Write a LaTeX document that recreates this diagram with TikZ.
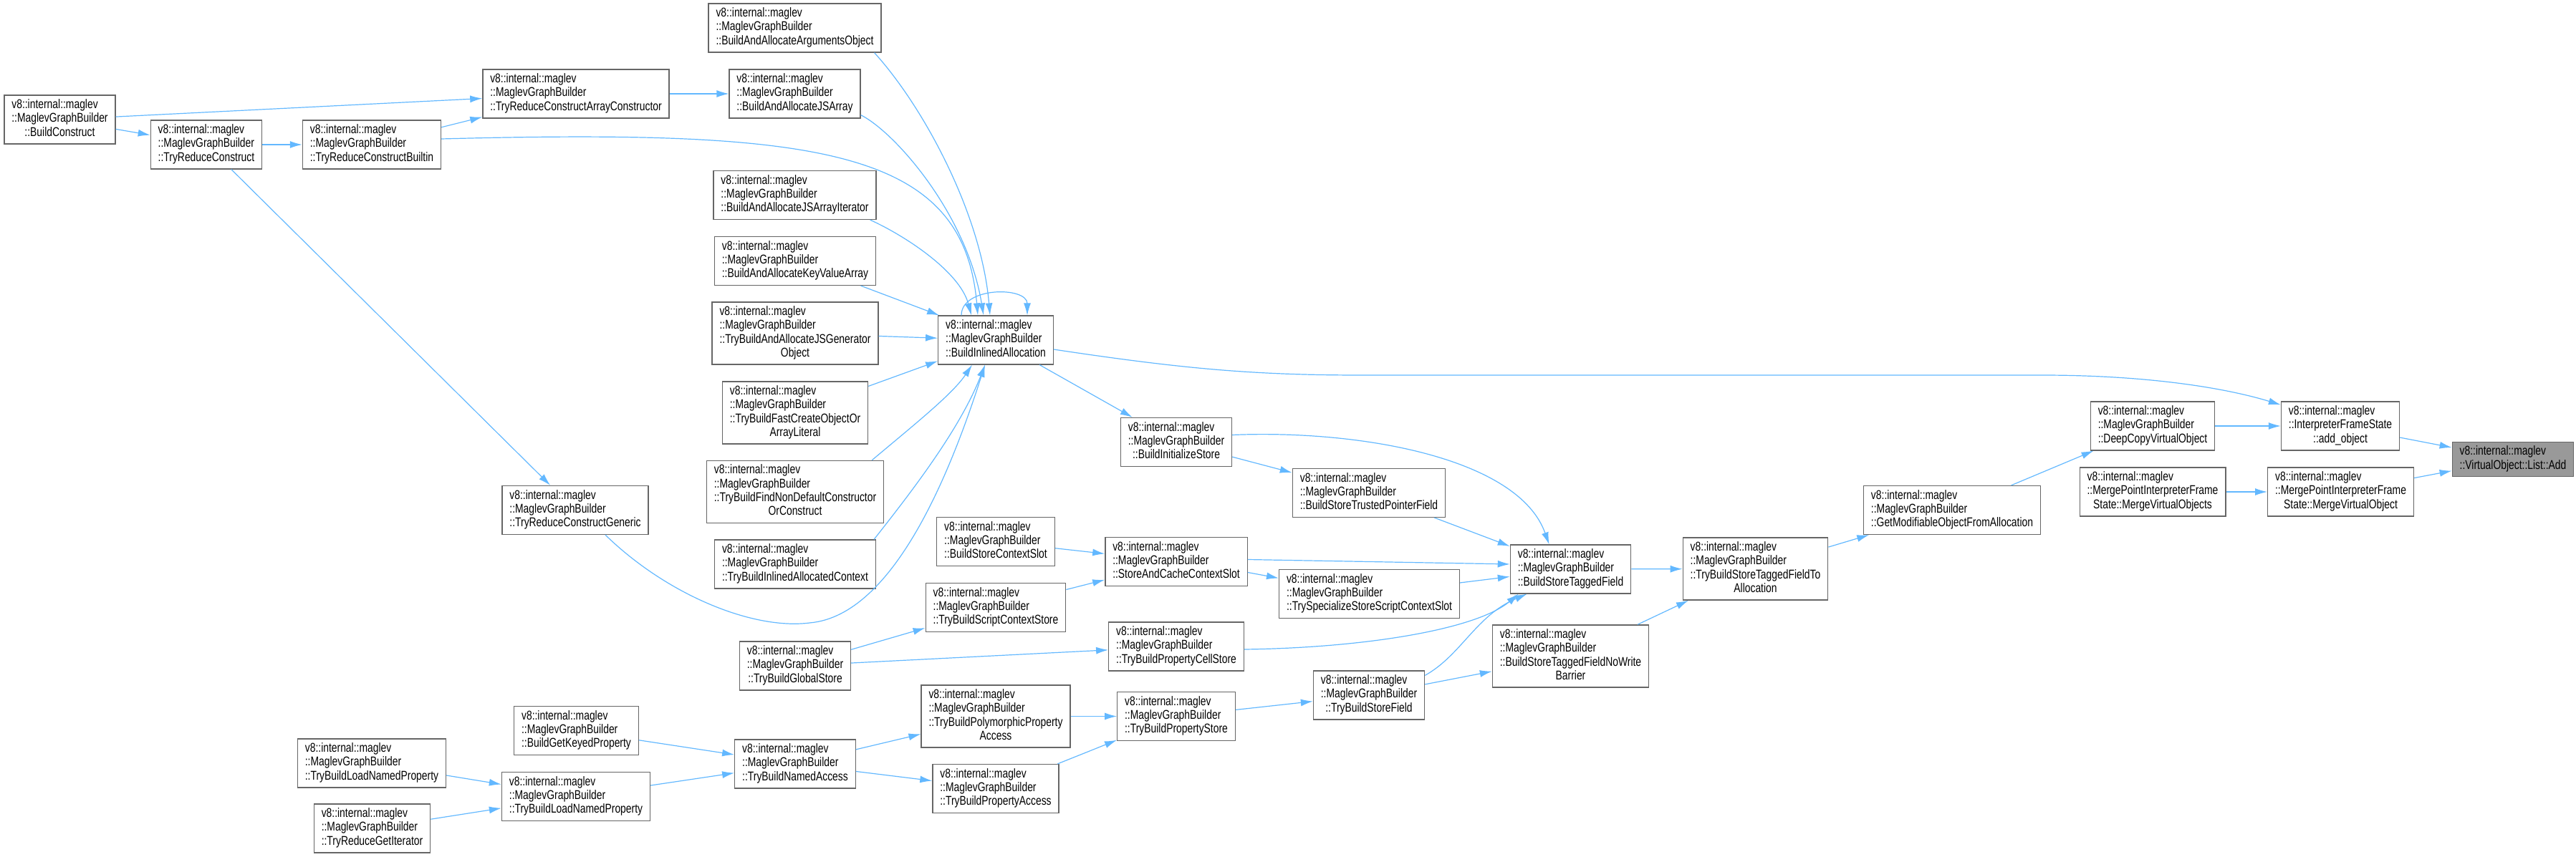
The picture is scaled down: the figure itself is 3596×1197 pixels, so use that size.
\documentclass[tikz,border=0pt]{standalone}
\usepackage{fontspec}
\usepackage{tikz}
\usetikzlibrary{arrows.meta,calc}
\newfontfamily\graphfont{Liberation Sans}[FakeStretch=0.78]
\definecolor{edgeblue}{RGB}{99,184,255}
\definecolor{boxgray}{RGB}{102,102,102}
\definecolor{addgray}{RGB}{153,153,153}
\newcommand{\fnlab}[2]{\begin{tabular}{@{}l@{}}#1\\\multicolumn{1}{@{}c@{}}{#2}\end{tabular}}
\newcommand{\mgb}[1]{\fnlab{v8::internal::maglev\\::MaglevGraphBuilder}{#1}}
\newcommand{\mgbb}[2]{\fnlab{v8::internal::maglev\\::MaglevGraphBuilder\\#1}{#2}}

\begin{document}
\begin{tikzpicture}[x=0.5pt,y=-0.5pt,
  fn/.style={draw=boxgray,line width=0.65pt,fill=white,inner xsep=5.2pt,inner ysep=2.5pt,
    font=\graphfont\fontsize{8.9pt}{9.65pt}\selectfont},
  arr/.style={-{Latex[length=8.5pt,width=5pt]},draw=edgeblue,line width=0.6pt}
]
\useasboundingbox (0,0) rectangle (3596,1197);

% callers, left to right
\node[fn] (bc) at (83.5,167) {\mgb{::BuildConstruct}};
\node[fn] (trc) at (288,202) {\mgb{::TryReduceConstruct}};
\node[fn] (trcb) at (519,202) {\mgb{::TryReduceConstructBuiltin}};
\node[fn] (trcac) at (804,131) {\mgb{::TryReduceConstructArrayConstructor}};
\node[fn] (trcg) at (803,712.5) {\mgb{::TryReduceConstructGeneric}};
\node[fn] (bgkp) at (804.5,1020.5) {\mgb{::BuildGetKeyedProperty}};
\node[fn] (tblnp1) at (519,1066) {\mgb{::TryBuildLoadNamedProperty}};
\node[fn] (trgi) at (519.5,1157) {\mgb{::TryReduceGetIterator}};
\node[fn] (tblnp2) at (804,1112.5) {\mgb{::TryBuildLoadNamedProperty}};

\node[fn] (baao) at (1109.5,39) {\mgb{::BuildAndAllocateArgumentsObject}};
\node[fn] (baaj) at (1109.5,131) {\mgb{::BuildAndAllocateJSArray}};
\node[fn] (baaji) at (1109.5,272.5) {\mgb{::BuildAndAllocateJSArrayIterator}};
\node[fn] (baakv) at (1110,364.5) {\mgb{::BuildAndAllocateKeyValueArray}};
\node[fn] (tbajg) at (1110,465.5) {\mgbb{::TryBuildAndAllocateJSGenerator}{Object}};
\node[fn] (tbfc) at (1110,576.5) {\mgbb{::TryBuildFastCreateObjectOr}{ArrayLiteral}};
\node[fn] (tbfnd) at (1110,687) {\mgbb{::TryBuildFindNonDefaultConstructor}{OrConstruct}};
\node[fn] (tbiac) at (1110,788) {\mgb{::TryBuildInlinedAllocatedContext}};
\node[fn] (tbgs) at (1110,930) {\mgb{::TryBuildGlobalStore}};
\node[fn] (tbna) at (1110,1067) {\mgb{::TryBuildNamedAccess}};

\node[fn] (bia) at (1390,475) {\mgb{::BuildInlinedAllocation}};
\node[fn] (bscs) at (1390,756.5) {\mgb{::BuildStoreContextSlot}};
\node[fn] (tbscs) at (1390,848.5) {\mgb{::TryBuildScriptContextStore}};
\node[fn] (tbppa) at (1390,1000.5) {\mgbb{::TryBuildPolymorphicProperty}{Access}};
\node[fn] (tbpa) at (1390,1101.5) {\mgb{::TryBuildPropertyAccess}};

\node[fn] (bis) at (1642,617.5) {\mgb{::BuildInitializeStore}};
\node[fn] (sacs) at (1642,784.5) {\mgb{::StoreAndCacheContextSlot}};
\node[fn] (tbpcs) at (1642,903) {\mgb{::TryBuildPropertyCellStore}};
\node[fn] (tbps) at (1642,1000.5) {\mgb{::TryBuildPropertyStore}};

\node[fn] (bstpf) at (1911,688.5) {\mgb{::BuildStoreTrustedPointerField}};
\node[fn] (tssc) at (1911.5,829.5) {\mgb{::TrySpecializeStoreScriptContextSlot}};
\node[fn] (tbsf) at (1911,971) {\mgb{::TryBuildStoreField}};

\node[fn] (bstf) at (2192.5,795) {\mgb{::BuildStoreTaggedField}};
\node[fn] (bstfnwb) at (2192.5,916.5) {\mgbb{::BuildStoreTaggedFieldNoWrite}{Barrier}};
\node[fn] (tbstfa) at (2450.5,794.5) {\mgbb{::TryBuildStoreTaggedFieldTo}{Allocation}};
\node[fn] (gmofa) at (2725,712.5) {\mgb{::GetModifiableObjectFromAllocation}};

\node[fn] (dcvo) at (3005,595) {\mgb{::DeepCopyVirtualObject}};
\node[fn] (mvos) at (3005,687) {\fnlab{v8::internal::maglev\\::MergePointInterpreterFrame}{State::MergeVirtualObjects}};
\node[fn] (ifs) at (3267,595) {\fnlab{v8::internal::maglev\\::InterpreterFrameState}{::add\_object}};
\node[fn] (mvo) at (3267.5,687) {\fnlab{v8::internal::maglev\\::MergePointInterpreterFrame}{State::MergeVirtualObject}};
\node[fn,fill=addgray] (add) at (3508,641.5) {\fnlab{v8::internal::maglev}{::VirtualObject::List::Add}};

% calls
\draw[arr] (bc) -- (trc);
\draw[arr] (bc) -- (trcac);
\draw[arr] (trc) -- (trcb);
\draw[arr] (trcb) -- (trcac);
\draw[arr] (trc) -- (trcg);
\draw[arr] (trcac) -- (baaj);
\draw[arr] ($(trcb.east)+(0,-8)$) .. controls (1150,180) and (1345,210) .. ($(bia.north)+(-25,0)$);
\draw[arr] ($(baao.south east)+(-10,0)$) .. controls (1290,150) and (1370,300) .. ($(bia.north)+(-8,0)$);
\draw[arr] ($(baaj.south east)+(0,-5)$) .. controls (1250,185) and (1350,300) .. ($(bia.north)+(-17,0)$);
\draw[arr] ($(baaji.south east)+(-9,0)$) .. controls (1265,330) and (1340,380) .. ($(bia.north)+(-34,0)$);
\draw[arr] (baakv) -- ($(bia.north west)+(2,0)$);
\draw[arr] ($(bia.north)+(-48,0)$) .. controls (1342,400) and (1434,400) .. ($(bia.north)+(44,0)$);
\draw[arr] (tbajg) -- (bia);
\draw[arr] (tbfc) -- (bia);
\draw[arr] ($(tbfnd.north east)+(-17,0)$) .. controls (1280,590) and (1330,550) .. ($(bia.south)+(-33,0)$);
\draw[arr] ($(tbiac.north east)+(-3,0)$) .. controls (1270,690) and (1340,600) .. ($(bia.south)+(-15,0)$);
\coordinate (genbend) at (1130,870);
\draw[arr] ($(trcg.south)+(42,0)$) .. controls (930,830) and (1050,880) .. (genbend)
  .. controls (1250,860) and (1330,650) .. ($(bia.south)+(-15,0)$);
\draw[arr] (bia) -- (bis);
\draw[arr] ($(bia.east)+(0,13)$) .. controls (1650,515) and (1750,524) .. (1900,524) -- (2850,524)
  .. controls (2990,524) and (3100,540) .. ($(ifs.north west)+(0,5)$);
\draw[arr] (bis) -- (bstpf);
\draw[arr] ($(bis.east)+(0,-10)$) .. controls (1900,600) and (2120,640) .. ($(bstf.north)+(-30,0)$);
\draw[arr] (bstpf) -- (bstf);
\draw[arr] ($(sacs.east)+(0,-3)$) -- ($(bstf.west)+(0,-7)$);
\draw[arr] (bscs) -- (sacs);
\draw[arr] ($(sacs.east)+(0,15)$) -- ($(tssc.west)+(0,-22)$);
\draw[arr] (tssc) -- (bstf);
\draw[arr] (tbscs) -- (sacs);
\draw[arr] (tbgs) -- (tbscs);
\draw[arr] (tbgs) -- (tbpcs);
\draw[arr] ($(tbpcs.east)+(0,4)$) .. controls (1900,905) and (2060,880) .. ($(bstf.south west)+(12,0)$);
\draw[arr] ($(tbsf.north east)+(0,7)$) .. controls (2040,915) and (2060,860) .. ($(bstf.south west)+(24,0)$);
\draw[arr] (tbsf) -- (bstfnwb);
\draw[arr] (tbps) -- (tbsf);
\draw[arr] (tbppa) -- (tbps);
\draw[arr] (tbpa) -- (tbps);
\draw[arr] (tbna) -- (tbppa);
\draw[arr] (tbna) -- (tbpa);
\draw[arr] (bgkp) -- (tbna);
\draw[arr] (tblnp2) -- (tbna);
\draw[arr] (tblnp1) -- (tblnp2);
\draw[arr] (trgi) -- (tblnp2);
\draw[arr] (bstf) -- (tbstfa);
\draw[arr] (bstfnwb) -- (tbstfa);
\draw[arr] (tbstfa) -- (gmofa);
\draw[arr] (gmofa) -- (dcvo);
\draw[arr] (dcvo) -- (ifs);
\draw[arr] (ifs) -- (add);
\draw[arr] (mvos) -- (mvo);
\draw[arr] (mvo) -- (add);
\end{tikzpicture}
\end{document}
